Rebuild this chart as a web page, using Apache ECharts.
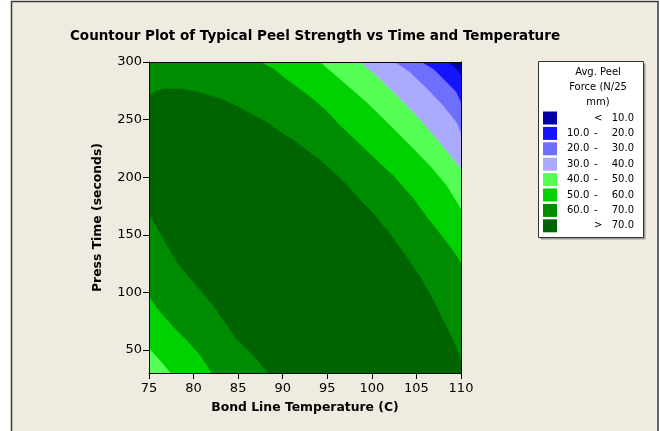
<!DOCTYPE html>
<html><head><meta charset="utf-8">
<script src="https://cdn.jsdelivr.net/npm/echarts@6/dist/echarts.min.js"></script>
<style>html,body{margin:0;padding:0;background:#fff}#c{width:660px;height:431px}</style>
</head><body><div id="c"></div>
<script>
// ---- axes ----
const xRange = [75, 110];
const yRange = [30, 300];
const yTicks = [50, 100, 150, 200, 250, 300];

// ---- legend levels (top to bottom) ----
const lowerLabels = ['', '10.0', '20.0', '30.0', '40.0', '50.0', '60.0', ''];
const opLabels    = ['<', '-', '-', '-', '-', '-', '-', '>'];
const upperLabels = ['10.0', '20.0', '30.0', '40.0', '50.0', '60.0', '70.0', '70.0'];
const levelColors = ['#0000A8', '#1414FF', '#6E6EFF', '#AAAAFF', '#55FF55', '#00D200', '#008C00', '#006400'];

// ---- contour boundaries: [temperature C, press time s] ----
const c10 = [[108.6,300],[109.5,294.2],[110,289.0]];
const c20 = [[105.6,300],[106.9,294.2],[108.4,282.6],[109.5,274.0],[110,265.3]];
const c30 = [[102.6,300],[104.3,291.3],[106.2,276.9],[108.0,262.4],[109.5,247.9],[110,239.2]];
const c40 = [[98.7,300],[100.5,288.4],[102.8,271.1],[105.0,253.7],[107.3,233.4],[109.1,216.1],[110,207.4]];
const c50Upper = [[94.2,300],[96.4,285.5],[99.4,265.3],[101.7,247.9],[104.3,227.7],[106.5,210.3],[108.4,192.9],[110,172.7]];
const c60Upper = [[87.6,300],[89.0,294.2],[90.4,285.5],[91.9,276.9],[93.4,268.2],[94.9,258.0],[96.4,245.6],[99.4,223.3],[102.4,201.6],[104.7,181.4],[106.2,165.5],[107.7,151.0],[109.1,136.5],[110,126.4]];
const c60Lower = [[75,96.0],[76.2,83.0],[77.7,70.0],[79.2,58.4],[80.7,45.4],[82.0,30]];
const c50Lower = [[75,51.2],[76.2,41.0],[77.4,30]];
const c70Upper = [[75,270.5],[75.9,274.8],[76.6,276.6],[78.5,276.6],[80.0,274.5],[81.5,271.6],[83.0,268.2],[84.8,261.8],[86.7,253.7],[88.2,247.9],[89.7,239.2],[91.2,232.0],[92.7,223.3],[94.2,214.6],[95.7,204.5],[97.2,192.9],[98.7,179.9],[100.2,168.3],[102.0,151.0],[103.9,130.7],[105.4,113.4],[106.9,93.1],[108.0,75.8],[109.1,58.4],[109.9,43.9],[110,38.1]];
const c70Lower = [[88.4,30],[86.7,45.4],[84.8,59.8],[82.2,88.8],[80.0,109.0],[78.1,126.4],[76.2,152.4],[75,168.3]];

// ---- build filled regions ----
const topRight = [xRange[1], yRange[1]];
const botLeft = [xRange[0], yRange[0]];
const botRight = [xRange[1], yRange[0]];
const regions = {
  0: [c10.concat([topRight])],
  1: [c20.concat([topRight])],
  2: [c30.concat([topRight])],
  3: [c40.concat([topRight])],
  4: [c50Upper.concat([topRight]), c50Lower.concat([botLeft])],
  5: [c60Upper.concat([topRight]), c60Lower.concat([botLeft])],
  6: [],
  7: [c70Upper.concat([botRight]).concat(c70Lower)]
};
const drawOrder = [6, 5, 4, 3, 2, 1, 0, 7];
const names = lowerLabels.map((l, i) => (l ? l + ' ' : '') + opLabels[i] + ' ' + upperLabels[i]);

const FONT = 'DejaVu Sans';
const series = drawOrder.map(idx => {
  const polys = regions[idx];
  return {
    type: 'custom',
    name: names[idx],
    coordinateSystem: 'cartesian2d',
    clip: true,
    silent: true,
    itemStyle: { color: levelColors[idx] },
    data: polys.map((p, k) => [p[0][0], p[0][1], k]),
    renderItem: (params, api) => {
      const poly = polys[api.value(2)];
      return {
        type: 'polygon',
        shape: { points: poly.map(pt => api.coord(pt)) },
        style: { fill: levelColors[idx], stroke: levelColors[idx], lineWidth: 0.5 }
      };
    }
  };
});

const chart = echarts.init(document.getElementById('c'), null, { renderer: 'canvas' });
chart.setOption({
  animation: false,
  backgroundColor: '#ffffff',
  title: {
    text: 'Countour Plot of Typical Peel Strength vs Time and Temperature',
    left: 310, top: 24, textAlign: 'center',
    textStyle: { fontFamily: FONT, fontWeight: 'bold', fontSize: 13.5, color: '#000' }
  },
  grid: {
    left: 149, right: 199, top: 62, bottom: 58,
    show: true, backgroundColor: levelColors[6], borderWidth: 0
  },
  xAxis: [{
    type: 'value', min: xRange[0], max: xRange[1], interval: 5, z: 10,
    name: 'Bond Line Temperature (C)', nameLocation: 'middle', nameGap: 29,
    nameTextStyle: { fontFamily: FONT, fontWeight: 'bold', fontSize: 12.4, color: '#000' },
    axisLine: { show: true, lineStyle: { color: '#000', width: 1 } },
    axisTick: { show: true, length: 6, lineStyle: { color: '#000' } },
    axisLabel: { fontFamily: FONT, fontSize: 13, color: '#000', margin: 9 },
    splitLine: { show: false }
  }, {
    type: 'value', position: 'top', min: xRange[0], max: xRange[1], z: 10,
    axisLine: { show: true, onZero: false, lineStyle: { color: '#000', width: 1 } },
    axisTick: { show: false }, axisLabel: { show: false }, splitLine: { show: false }
  }],
  yAxis: [{
    type: 'value', min: yRange[0], max: yRange[1], z: 10,
    name: 'Press Time (seconds)', nameLocation: 'middle', nameGap: 45,
    nameTextStyle: { fontFamily: FONT, fontWeight: 'bold', fontSize: 12.4, color: '#000' },
    axisLine: { show: true, lineStyle: { color: '#000', width: 1 } },
    axisTick: { show: true, length: 6, lineStyle: { color: '#000' }, customValues: yTicks },
    axisLabel: { fontFamily: FONT, fontSize: 13, color: '#000', margin: 7, customValues: yTicks },
    splitLine: { show: false }
  }, {
    type: 'value', position: 'right', min: yRange[0], max: yRange[1], z: 10,
    axisLine: { show: true, onZero: false, lineStyle: { color: '#000', width: 1 } },
    axisTick: { show: false }, axisLabel: { show: false }, splitLine: { show: false }
  }],
  legend: {
    orient: 'vertical', left: 543, top: 111.5, z: 5, padding: 0,
    itemWidth: 14, itemHeight: 13, itemGap: 2.4,
    icon: 'rect', selectedMode: false,
    data: names.map((n, i) => ({ name: n, itemStyle: { color: levelColors[i] } })),
    formatter: name => {
      const i = names.indexOf(name);
      return '{a|' + (lowerLabels[i] || ' ') + '}{b|' + opLabels[i] + '}{c|' + upperLabels[i] + '}';
    },
    textStyle: {
      fontFamily: FONT, fontSize: 10, color: '#000',
      rich: {
        a: { fontFamily: FONT, fontSize: 10, color: '#000', width: 27, padding: [0, 0, 0, 5] },
        b: { fontFamily: FONT, fontSize: 10, color: '#000', width: 18 },
        c: { fontFamily: FONT, fontSize: 10, color: '#000', width: 22, align: 'right' }
      }
    }
  },
  graphic: [
    { type: 'rect', z: -10, shape: { x: 11.5, y: 1.5, width: 646.5, height: 440 },
      style: { fill: '#EFEBE1', stroke: '#3a3a3a', lineWidth: 1.5 } },
    { type: 'rect', z: 1, shape: { x: 540.5, y: 63.5, width: 105, height: 176 },
      style: { fill: '#9a9a9a' } },
    { type: 'rect', z: 2, shape: { x: 538.5, y: 61.5, width: 105, height: 176 },
      style: { fill: '#ffffff', stroke: '#333', lineWidth: 1 } },
    { type: 'text', z: 3, style: { x: 598, y: 72, text: 'Avg. Peel', textAlign: 'center', textVerticalAlign: 'middle',
      font: '10px "DejaVu Sans"', fill: '#000' } },
    { type: 'text', z: 3, style: { x: 598, y: 87, text: 'Force (N/25', textAlign: 'center', textVerticalAlign: 'middle',
      font: '10px "DejaVu Sans"', fill: '#000' } },
    { type: 'text', z: 3, style: { x: 598, y: 102, text: 'mm)', textAlign: 'center', textVerticalAlign: 'middle',
      font: '10px "DejaVu Sans"', fill: '#000' } }
  ],
  series: series
});
</script></body></html>
